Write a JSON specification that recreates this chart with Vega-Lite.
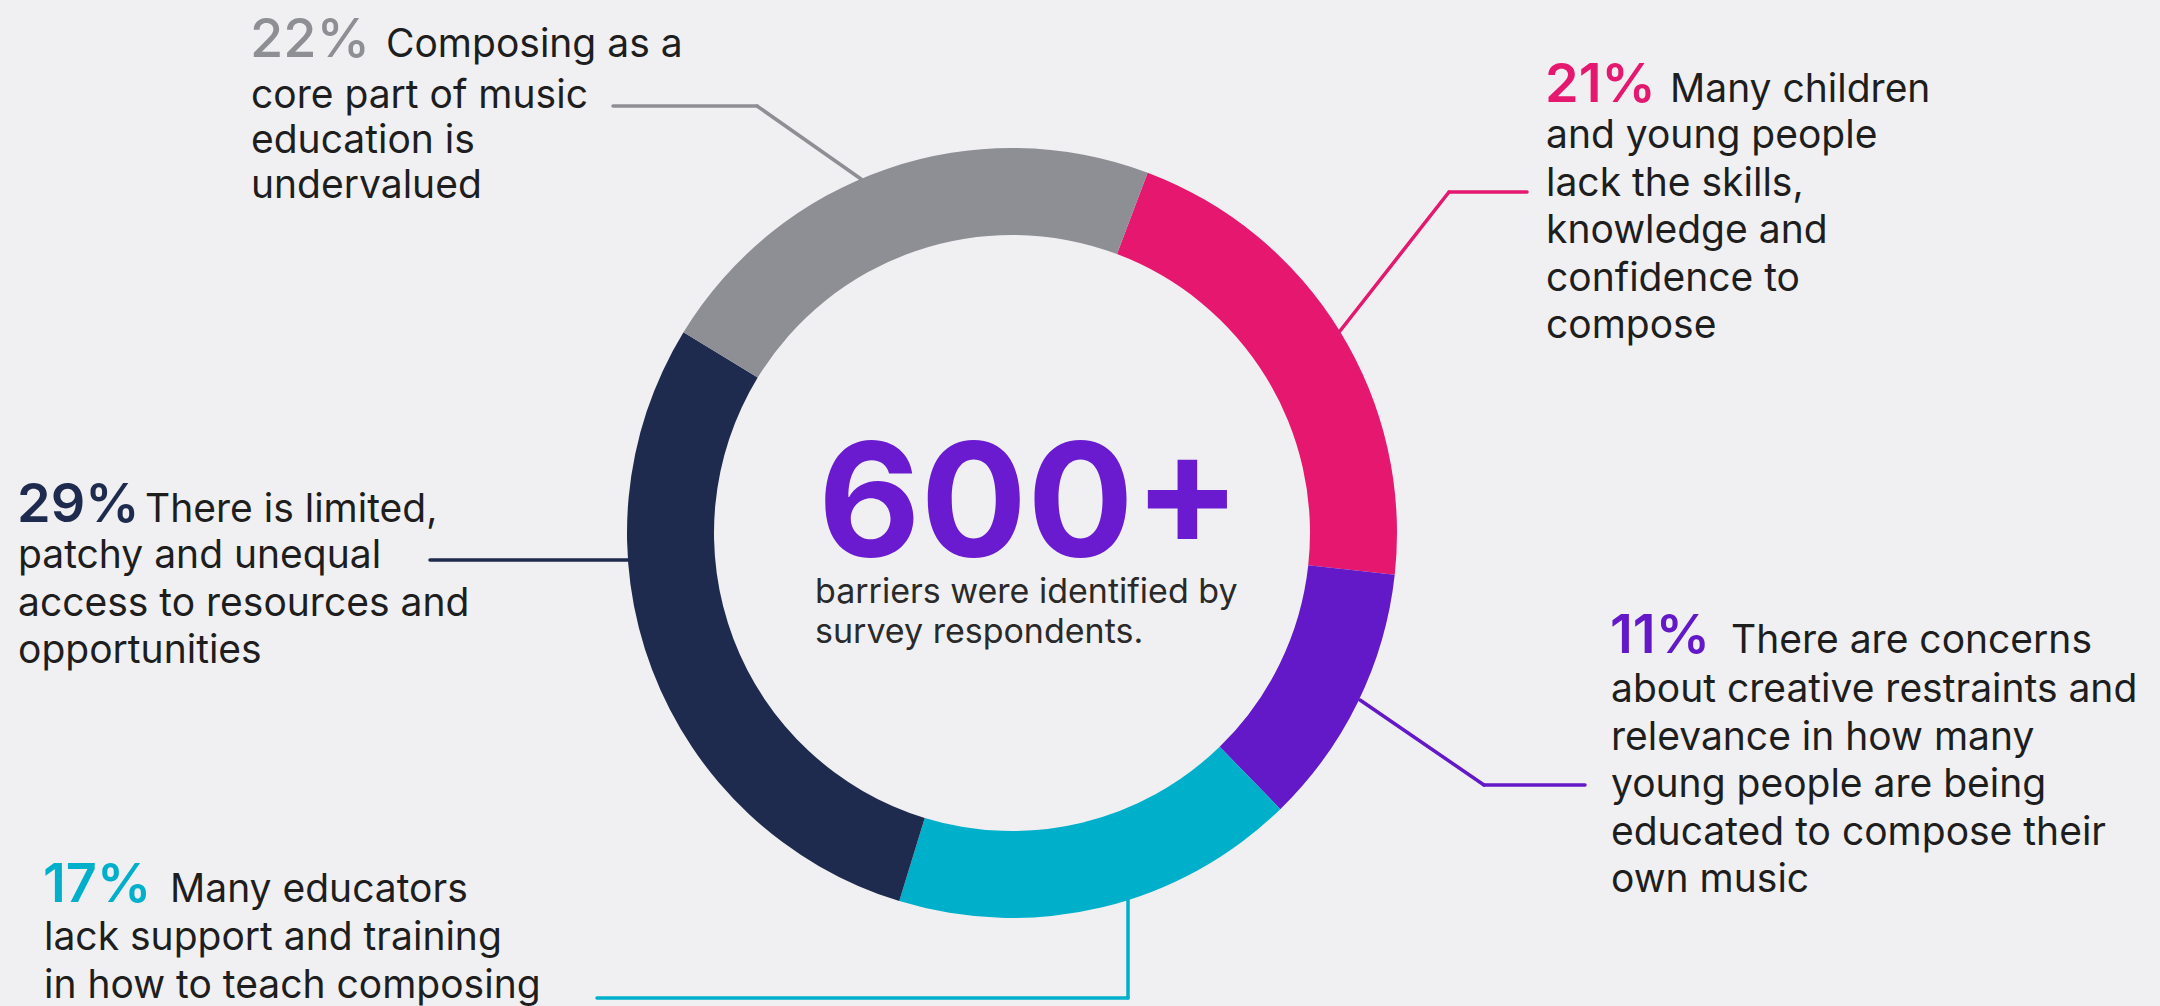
{
  "$schema": "https://vega.github.io/schema/vega-lite/v6.json",
  "width": 2160,
  "height": 1006,
  "autosize": {"type": "fit", "contains": "padding"},
  "padding": 0,
  "background": "#F0F0F2",
  "config": {
    "view": {"stroke": null},
    "axis": {"disable": true},
    "legend": {"disable": true},
    "text": {"font": "Inter", "baseline": "alphabetic", "align": "left"}
  },
  "data": {
    "values": [
      {"cat": "skills", "share": 0.21, "seq": 1, "lead": "Many children", "rest": "and young people\nlack the skills,\nknowledge and\nconfidence to\ncompose"},
      {"cat": "relevance", "share": 0.11, "seq": 2, "lead": "There are concerns", "rest": "about creative restraints and\nrelevance in how many\nyoung people are being\neducated to compose their\nown music"},
      {"cat": "training", "share": 0.17, "seq": 3, "lead": "Many educators", "rest": "lack support and training\nin how to teach composing"},
      {"cat": "access", "share": 0.29, "seq": 4, "lead": "There is limited,", "rest": "patchy and unequal\naccess to resources and\nopportunities"},
      {"cat": "value", "share": 0.22, "seq": 5, "lead": "Composing as a", "rest": "core part of music\neducation is\nundervalued"}
    ]
  },
  "layer": [
    {
      "mark": {"type": "arc", "outerRadius": 385, "innerRadius": 298},
      "encoding": {
        "theta": {"field": "share", "type": "quantitative", "stack": true, "scale": {"range": [0.36, 6.6432]}},
        "order": {"field": "seq", "type": "quantitative"},
        "color": {"field": "cat", "type": "nominal", "legend": null,
          "scale": {"domain": ["skills", "relevance", "training", "access", "value"],
                    "range": ["#E5176E", "#6419C9", "#00B0CB", "#1F2B4E", "#8E8E95"]}},
        "x": {"datum": 1012, "type": "quantitative", "axis": null, "scale": {"domain": [0, 2160], "nice": false, "zero": false}},
        "y": {"datum": 533, "type": "quantitative", "axis": null, "scale": {"domain": [0, 1006], "nice": false, "zero": false, "reverse": true}}
      }
    },
    {
      "transform": [{"filter": "datum.cat === 'value'"}],
      "mark": {"type": "rule", "strokeWidth": 3.5, "strokeCap": "round"},
      "encoding": {"x": {"datum": 613}, "y": {"datum": 106}, "x2": {"datum": 757}, "y2": {"datum": 106}, "color": {"field": "cat", "type": "nominal"}}
    },
    {
      "transform": [{"filter": "datum.cat === 'value'"}],
      "mark": {"type": "rule", "strokeWidth": 3.5, "strokeCap": "round"},
      "encoding": {"x": {"datum": 757}, "y": {"datum": 106}, "x2": {"datum": 861}, "y2": {"datum": 179}, "color": {"field": "cat", "type": "nominal"}}
    },
    {
      "transform": [{"filter": "datum.cat === 'skills'"}],
      "mark": {"type": "rule", "strokeWidth": 3.5, "strokeCap": "round"},
      "encoding": {"x": {"datum": 1527}, "y": {"datum": 192}, "x2": {"datum": 1449}, "y2": {"datum": 192}, "color": {"field": "cat", "type": "nominal"}}
    },
    {
      "transform": [{"filter": "datum.cat === 'skills'"}],
      "mark": {"type": "rule", "strokeWidth": 3.5, "strokeCap": "round"},
      "encoding": {"x": {"datum": 1449}, "y": {"datum": 192}, "x2": {"datum": 1340}, "y2": {"datum": 331}, "color": {"field": "cat", "type": "nominal"}}
    },
    {
      "transform": [{"filter": "datum.cat === 'access'"}],
      "mark": {"type": "rule", "strokeWidth": 3.5, "strokeCap": "round"},
      "encoding": {"x": {"datum": 430}, "y": {"datum": 560}, "x2": {"datum": 630}, "y2": {"datum": 560}, "color": {"field": "cat", "type": "nominal"}}
    },
    {
      "transform": [{"filter": "datum.cat === 'relevance'"}],
      "mark": {"type": "rule", "strokeWidth": 3.5, "strokeCap": "round"},
      "encoding": {"x": {"datum": 1360}, "y": {"datum": 700}, "x2": {"datum": 1484}, "y2": {"datum": 785}, "color": {"field": "cat", "type": "nominal"}}
    },
    {
      "transform": [{"filter": "datum.cat === 'relevance'"}],
      "mark": {"type": "rule", "strokeWidth": 3.5, "strokeCap": "round"},
      "encoding": {"x": {"datum": 1484}, "y": {"datum": 785}, "x2": {"datum": 1585}, "y2": {"datum": 785}, "color": {"field": "cat", "type": "nominal"}}
    },
    {
      "transform": [{"filter": "datum.cat === 'training'"}],
      "mark": {"type": "rule", "strokeWidth": 3.5, "strokeCap": "round"},
      "encoding": {"x": {"datum": 1128}, "y": {"datum": 898}, "x2": {"datum": 1128}, "y2": {"datum": 998}, "color": {"field": "cat", "type": "nominal"}}
    },
    {
      "transform": [{"filter": "datum.cat === 'training'"}],
      "mark": {"type": "rule", "strokeWidth": 3.5, "strokeCap": "round"},
      "encoding": {"x": {"datum": 1128}, "y": {"datum": 998}, "x2": {"datum": 597}, "y2": {"datum": 998}, "color": {"field": "cat", "type": "nominal"}}
    },
    {
      "transform": [{"filter": "datum.cat === 'value'"}],
      "mark": {"type": "text", "fontSize": 54, "fontWeight": 500},
      "encoding": {"x": {"datum": 250}, "y": {"datum": 57}, "text": {"field": "share", "type": "quantitative", "format": ".0%"}, "color": {"field": "cat", "type": "nominal"}}
    },
    {
      "transform": [{"filter": "datum.cat === 'value'"}],
      "mark": {"type": "text", "fontSize": 39, "color": "#1E1E1E"},
      "encoding": {"x": {"datum": 386}, "y": {"datum": 57}, "text": {"field": "lead", "type": "nominal"}}
    },
    {
      "transform": [{"filter": "datum.cat === 'value'"}],
      "mark": {"type": "text", "fontSize": 39, "color": "#1E1E1E", "lineBreak": "\n", "lineHeight": 45},
      "encoding": {"x": {"datum": 251}, "y": {"datum": 108}, "text": {"field": "rest", "type": "nominal"}}
    },
    {
      "transform": [{"filter": "datum.cat === 'access'"}],
      "mark": {"type": "text", "fontSize": 54, "fontWeight": 600},
      "encoding": {"x": {"datum": 17}, "y": {"datum": 522}, "text": {"field": "share", "type": "quantitative", "format": ".0%"}, "color": {"field": "cat", "type": "nominal"}}
    },
    {
      "transform": [{"filter": "datum.cat === 'access'"}],
      "mark": {"type": "text", "fontSize": 39, "color": "#1E1E1E"},
      "encoding": {"x": {"datum": 145}, "y": {"datum": 522}, "text": {"field": "lead", "type": "nominal"}}
    },
    {
      "transform": [{"filter": "datum.cat === 'access'"}],
      "mark": {"type": "text", "fontSize": 39, "color": "#1E1E1E", "lineBreak": "\n", "lineHeight": 47.5},
      "encoding": {"x": {"datum": 18}, "y": {"datum": 568}, "text": {"field": "rest", "type": "nominal"}}
    },
    {
      "transform": [{"filter": "datum.cat === 'skills'"}],
      "mark": {"type": "text", "fontSize": 54, "fontWeight": 600},
      "encoding": {"x": {"datum": 1545}, "y": {"datum": 102}, "text": {"field": "share", "type": "quantitative", "format": ".0%"}, "color": {"field": "cat", "type": "nominal"}}
    },
    {
      "transform": [{"filter": "datum.cat === 'skills'"}],
      "mark": {"type": "text", "fontSize": 39, "color": "#1E1E1E"},
      "encoding": {"x": {"datum": 1670}, "y": {"datum": 102}, "text": {"field": "lead", "type": "nominal"}}
    },
    {
      "transform": [{"filter": "datum.cat === 'skills'"}],
      "mark": {"type": "text", "fontSize": 39, "color": "#1E1E1E", "lineBreak": "\n", "lineHeight": 47.5},
      "encoding": {"x": {"datum": 1546}, "y": {"datum": 148}, "text": {"field": "rest", "type": "nominal"}}
    },
    {
      "transform": [{"filter": "datum.cat === 'relevance'"}],
      "mark": {"type": "text", "fontSize": 54, "fontWeight": 600},
      "encoding": {"x": {"datum": 1610}, "y": {"datum": 653}, "text": {"field": "share", "type": "quantitative", "format": ".0%"}, "color": {"field": "cat", "type": "nominal"}}
    },
    {
      "transform": [{"filter": "datum.cat === 'relevance'"}],
      "mark": {"type": "text", "fontSize": 39, "color": "#1E1E1E"},
      "encoding": {"x": {"datum": 1731}, "y": {"datum": 653}, "text": {"field": "lead", "type": "nominal"}}
    },
    {
      "transform": [{"filter": "datum.cat === 'relevance'"}],
      "mark": {"type": "text", "fontSize": 39, "color": "#1E1E1E", "lineBreak": "\n", "lineHeight": 47.5},
      "encoding": {"x": {"datum": 1611}, "y": {"datum": 702}, "text": {"field": "rest", "type": "nominal"}}
    },
    {
      "transform": [{"filter": "datum.cat === 'training'"}],
      "mark": {"type": "text", "fontSize": 54, "fontWeight": 600},
      "encoding": {"x": {"datum": 43}, "y": {"datum": 902}, "text": {"field": "share", "type": "quantitative", "format": ".0%"}, "color": {"field": "cat", "type": "nominal"}}
    },
    {
      "transform": [{"filter": "datum.cat === 'training'"}],
      "mark": {"type": "text", "fontSize": 39, "color": "#1E1E1E"},
      "encoding": {"x": {"datum": 170}, "y": {"datum": 902}, "text": {"field": "lead", "type": "nominal"}}
    },
    {
      "transform": [{"filter": "datum.cat === 'training'"}],
      "mark": {"type": "text", "fontSize": 39, "color": "#1E1E1E", "lineBreak": "\n", "lineHeight": 47.5},
      "encoding": {"x": {"datum": 44}, "y": {"datum": 950}, "text": {"field": "rest", "type": "nominal"}}
    },
    {
      "data": {"values": [{"total": "600+", "note": "barriers were identified by\nsurvey respondents."}]},
      "mark": {"type": "text", "fontSize": 158, "fontWeight": 700, "color": "#6A1BD0"},
      "encoding": {"x": {"datum": 818}, "y": {"datum": 556}, "text": {"field": "total", "type": "nominal"}}
    },
    {
      "data": {"values": [{"total": "600+", "note": "barriers were identified by\nsurvey respondents."}]},
      "mark": {"type": "text", "fontSize": 34, "color": "#2A2A2A", "lineBreak": "\n", "lineHeight": 40},
      "encoding": {"x": {"datum": 815}, "y": {"datum": 603}, "text": {"field": "note", "type": "nominal"}}
    }
  ]
}
